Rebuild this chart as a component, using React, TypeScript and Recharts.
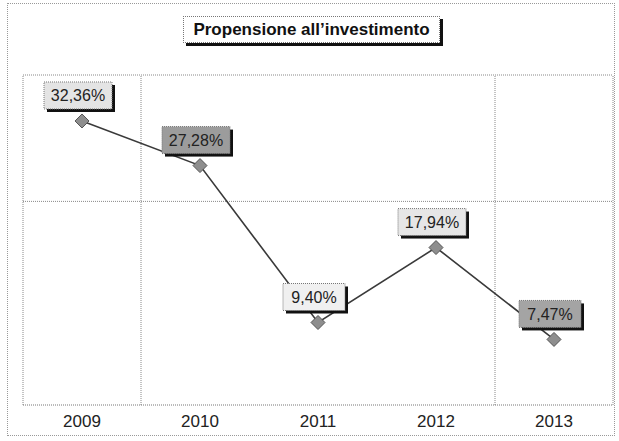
import { LineChart, Line, XAxis, YAxis, ReferenceLine, LabelList } from 'recharts'

const years = ['2009', '2010', '2011', '2012', '2013']
const values = [32.36, 27.28, 9.4, 17.94, 7.47]
const valueLabels = ['32,36%', '27,28%', '9,40%', '17,94%', '7,47%']
// category slots on a 0..5 numeric axis, centres at .5
const slots = [0.5, 1.5, 2.5, 3.5, 4.5]
const gridX = [0, 1, 4, 5]
const gridY = [23.2, 37.6]
const yMax = 37.6

const labelFills = ['#e4e4e4', '#9c9c9c', '#f0f0f0', '#e6e6e6', '#a4a4a4']

const data = years.map((y, i) => ({ pos: slots[i], year: y, value: values[i], label: valueLabels[i] }))

function Diamond(props: any) {
  const { cx, cy } = props
  if (cx == null || cy == null) return null
  const r = 7
  return (
    <polygon
      points={`${cx},${cy - r} ${cx + r},${cy} ${cx},${cy + r} ${cx - r},${cy}`}
      fill="#8e8e8e"
      stroke="#555"
      strokeWidth={1}
    />
  )
}

function BoxLabel(props: any) {
  const { x, y, index } = props
  if (x == null || y == null) return null
  const text = valueLabels[index]
  const w = text.length > 5 ? 68 : 62
  const h = 27
  const left = x - 4 - w / 2
  const top = y - 12 - h
  return (
    <g>
      <rect x={left + 3} y={top + 3} width={w} height={h} fill="#111" />
      <rect x={left} y={top} width={w} height={h} fill={labelFills[index]} stroke="#777" strokeDasharray="1 1" />
      <text
        x={left + w / 2}
        y={top + h / 2 + 6}
        textAnchor="middle"
        fontFamily="Liberation Sans, Arial, sans-serif"
        fontSize={16}
        fill="#222"
      >
        {text}
      </text>
    </g>
  )
}

function YearTick(props: any) {
  const { x, y, payload } = props
  return (
    <text x={x} y={y + 14} textAnchor="middle" fontSize={17} fill="#222" fontFamily="Liberation Sans, Arial, sans-serif">
      {years[slots.indexOf(payload.value)] ?? ''}
    </text>
  )
}

export default function App() {
  return (
    <div style={{ position: 'absolute', left: 0, top: 0, width: 619, height: 441, background: '#fff', fontFamily: 'Liberation Sans, Arial, sans-serif' }}>
      <div style={{ position: 'absolute', left: 7, top: 3, width: 606, height: 431, border: '1px dotted #999' }} />
      <div
        style={{
          position: 'absolute',
          left: 183,
          top: 16,
          width: 255,
          height: 25,
          border: '1px dotted #777',
          boxShadow: '3px 3px 0 #111',
          background: '#fff',
          textAlign: 'center',
          fontWeight: 'bold',
          fontSize: 17,
          lineHeight: '25px',
          color: '#111',
          whiteSpace: 'nowrap',
        }}
      >
        Propensione all’investimento
      </div>
      <div style={{ position: 'absolute', left: 0, top: 0 }}>
        <LineChart width={619} height={441} data={data} margin={{ top: 75, right: 6, bottom: 6, left: 23 }}>
          <XAxis
            dataKey="pos"
            type="number"
            domain={[0, 5]}
            ticks={slots}
            axisLine={{ stroke: '#777', strokeDasharray: '1 1' }}
            tickLine={false}
            height={30}
            tick={<YearTick />}
          />
          <YAxis hide domain={[0, yMax]} />
          {gridX.map((gx) => (
            <ReferenceLine key={`x${gx}`} x={gx} stroke="#888" strokeDasharray="1 1" />
          ))}
          {gridY.map((gy) => (
            <ReferenceLine key={`y${gy}`} y={gy} stroke="#888" strokeDasharray="1 1" />
          ))}
          <Line
            dataKey="value"
            stroke="#3a3a3a"
            strokeWidth={1.6}
            dot={<Diamond />}
            activeDot={false}
            isAnimationActive={false}
          >
            <LabelList dataKey="label" content={<BoxLabel />} />
          </Line>
        </LineChart>
      </div>
    </div>
  )
}
